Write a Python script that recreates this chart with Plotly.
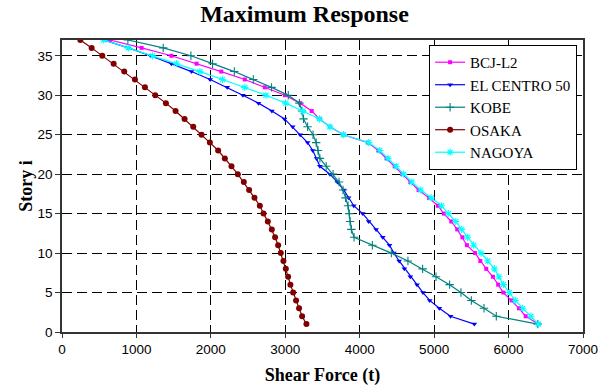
import plotly.graph_objects as go

stories = list(range(1, 38))

bcj_l2 = [6400, 6230, 6140, 6040, 5930, 5860, 5790, 5700, 5620, 5550,
          5440, 5380, 5310, 5230, 5130, 5050, 4930, 4790, 4680, 4570,
          4470, 4360, 4250, 4110, 3780, 3600, 3460, 3355, 3200, 2995,
          2725, 2456, 2140, 1808, 1470, 1070, 644]

el_centro = [5540, 5220, 5070, 4940, 4850, 4770, 4680, 4600, 4530, 4460,
             4400, 4310, 4220, 4120, 4040, 3920, 3850, 3785, 3700, 3600,
             3465, 3420, 3370, 3300, 3200, 3100, 2990, 2820, 2640, 2430,
             2220, 1990, 1740, 1470, 1190, 890, 560]

kobe = [6393, 5835, 5670, 5500, 5360, 5208, 5025, 4845, 4648, 4425,
        4170, 3924, 3888, 3870, 3860, 3843, 3810, 3776, 3722, 3642,
        3550, 3465, 3440, 3415, 3373, 3300, 3245, 3225, 3190, 3040,
        2815, 2570, 2315, 2023, 1732, 1360, 885]

osaka = [3284, 3226, 3185, 3145, 3105, 3069, 3038, 3007, 2975, 2940,
         2904, 2863, 2819, 2765, 2707, 2658, 2586, 2514, 2443, 2362,
         2277, 2188, 2098, 1987, 1875, 1763, 1647, 1526, 1396, 1253,
         1114, 980, 836, 694, 541, 398, 246]

nagoya = [6400, 6300, 6190, 6090, 6010, 5930, 5870, 5810, 5720, 5630,
          5530, 5450, 5370, 5290, 5190, 5100, 4960, 4820, 4700, 4590,
          4490, 4380, 4270, 4120, 3780, 3600, 3460, 3235, 3005, 2740,
          2456, 2157, 1852, 1540, 1217, 890, 560]

x_ticks = [0, 1000, 2000, 3000, 4000, 5000, 6000, 7000]
y_ticks = [0, 5, 10, 15, 20, 25, 30, 35]

series = [
    ("BCJ-L2", bcj_l2, "#FF00FF", dict(symbol="square", size=4)),
    ("EL CENTRO 50", el_centro, "#0000FF", dict(symbol="triangle-down", size=5)),
    ("KOBE", kobe, "#008080", dict(symbol="cross-thin", size=6, line=dict(width=1.1, color="#008080"))),
    ("OSAKA", osaka, "#800000", dict(symbol="circle", size=6)),
    ("NAGOYA", nagoya, "#00FFFF", dict(symbol="asterisk", size=6, line=dict(width=1.1, color="#00FFFF"))),
]

fig = go.Figure()
for i, (name, vals, color, mk) in enumerate(series):
    m = dict(color=color)
    m.update(mk)
    fig.add_trace(go.Scatter(
        x=vals, y=stories, name=name, mode="lines+markers",
        line=dict(color=color, width=1.2), marker=m, legendgroup=f"g{i}",
    ))

axis_font = dict(family="Liberation Sans, Arial", size=13.5, color="black")
title_font = dict(family="Liberation Serif, Times New Roman", size=18, color="black")

fig.update_layout(
    width=609, height=389,
    margin=dict(l=62, r=26, t=40, b=57),
    paper_bgcolor="white", plot_bgcolor="white",
    title=dict(text="<b>Maximum Response</b>", x=0.5, xref="container", xanchor="center",
               y=0.965, yref="container", yanchor="middle",
               font=dict(family="Liberation Serif, Times New Roman", size=24, color="black")),
    xaxis=dict(range=[0, 7000], tickvals=x_ticks, ticks="outside", ticklen=4,
               tickcolor="#333", showline=True, linecolor="#333", linewidth=1.5, mirror=True,
               showgrid=True, gridcolor="black", gridwidth=1, griddash="10px,5px",
               zeroline=False, tickfont=axis_font, automargin=False,
               title=dict(text="<b>Shear Force (t)</b>", font=title_font, standoff=12)),
    yaxis=dict(range=[0, 37], tickvals=y_ticks, ticks="outside", ticklen=5,
               tickcolor="#333", showline=True, linecolor="#333", linewidth=1.5, mirror=True,
               showgrid=True, gridcolor="black", gridwidth=1, griddash="10px,5px",
               zeroline=False, tickfont=axis_font, automargin=False,
               title=dict(text="<b>Story i</b>", font=title_font, standoff=0)),
    legend=dict(x=0.7046, y=0.983, xanchor="left", yanchor="top",
                bordercolor="black", borderwidth=1, bgcolor="white",
                font=dict(family="Liberation Serif, Times New Roman", size=15, color="black"),
                tracegroupgap=0),
    showlegend=True,
)

fig.write_html("out.html")
